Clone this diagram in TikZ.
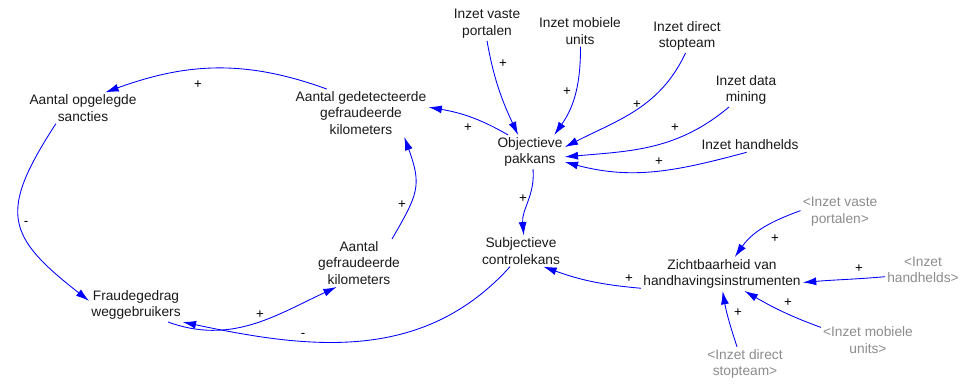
\documentclass[tikz,border=0pt]{standalone}
\usepackage{fontspec}
\setmainfont{Liberation Sans}
\usetikzlibrary{arrows.meta}
\definecolor{linkblue}{RGB}{0,0,255}
\definecolor{shadowgray}{RGB}{140,140,140}
\begin{document}
\begin{tikzpicture}[x=0.75pt, y=-0.75pt,
    var/.style={align=center, inner sep=1.5pt, font=\fontsize{10.3}{12.5}\selectfont, text=black!90},
    shadow/.style={var, text=shadowgray},
    link/.style={-{Latex[length=10pt,width=6pt]}, color=linkblue, line width=0.65pt},
    sign/.style={font=\fontsize{10}{12}\selectfont, inner sep=0pt}]
    \useasboundingbox (0,0) rectangle (972,383);
    % Loop variables
    \node[var] (sanct) at (83,108)  {Aantal opgelegde\\sancties};
    \node[var] (gedet) at (361,113) {Aantal gedetecteerde\\gefraudeerde\\kilometers};
    \node[var] (fraud) at (136,305) {Fraudegedrag\\weggebruikers};
    \node[var] (gefr)  at (359,263) {Aantal\\gefraudeerde\\kilometers};
    \node[var] (obj)   at (530,152) {Objectieve\\pakkans};
    \node[var] (subj)  at (521,251) {Subjectieve\\controlekans};
    \node[var] (zicht) at (722,274) {Zichtbaarheid van\\handhavingsinstrumenten};
    % Instruments
    \node[var] (vaste)  at (487,24)  {Inzet vaste\\portalen};
    \node[var] (mob)    at (580,31)  {Inzet mobiele\\units};
    \node[var] (direct) at (687,36)  {Inzet direct\\stopteam};
    \node[var] (mining) at (746,90)  {Inzet data\\mining};
    \node[var] (hand)   at (750,145) {Inzet handhelds};
    % Shadow variables
    \node[shadow] (gvaste)  at (840,212) {<Inzet vaste\\portalen>};
    \node[shadow] (ghand)   at (923,270) {<Inzet\\handhelds>};
    \node[shadow] (gmob)    at (868,340) {<Inzet mobiele\\units>};
    \node[shadow] (gdirect) at (745,364) {<Inzet direct\\stopteam>};
    % Loop links
    \draw[link] (gedet.145) to[out=160,in=20] (sanct.35);
    \draw[link] (sanct.210) to[out=237,in=142,looseness=1.5] (fraud.175);
    \draw[link] (fraud.-28) to[out=-20,in=205] (gefr.227);
    \draw[link] (gefr.36) to[out=60,in=-70,looseness=1.3] (gedet.-29);
    \draw[link] (obj.142) to[out=150,in=-10] (gedet.5);
    \draw[link] (obj.-80) to[out=-85,in=95] (subj.80);
    \draw[link] (subj.235) to[out=228,in=-12] (fraud.-20);
    \draw[link] (zicht.190) to[out=175,in=-20] (subj.-35);
    % Inputs to pakkans
    \draw[link] (vaste.-90) to[out=-80,in=115] (obj.125);
    \draw[link] (mob.-88) to[out=-90,in=55] (obj.35);
    \draw[link] (direct.-95) to[out=-115,in=27] (obj.8);
    \draw[link] (mining.225) to[out=-140,in=5] (obj.-8);
    \draw[link] (hand.-115) to[out=195,in=-15] (obj.-16);
    % Inputs to zichtbaarheid
    \draw[link] (gvaste.178) to[out=200,in=55] (zicht.53);
    \draw[link] (ghand.190) to[out=185,in=5] (zicht.-6);
    \draw[link] (gmob.165) to[out=160,in=-30] (zicht.-37);
    \draw[link] (gdirect.115) to[out=108,in=-80] (zicht.-88);
    % Polarities
    \node[sign] (p1)  at (198,85)  {+};
    \node[sign] (p2)  at (26,223)  {-};
    \node[sign] (p3)  at (260,315) {+};
    \node[sign] (p4)  at (402,205) {+};
    \node[sign] (p5)  at (468,128) {+};
    \node[sign] (p6)  at (503,64)  {+};
    \node[sign] (p7)  at (567,92)  {+};
    \node[sign] (p8)  at (637,105) {+};
    \node[sign] (p9)  at (675,128) {+};
    \node[sign] (p10) at (659,162) {+};
    \node[sign] (p11) at (523,199) {+};
    \node[sign] (p12) at (303,335) {-};
    \node[sign] (p13) at (629,279) {+};
    \node[sign] (p14) at (775,239) {+};
    \node[sign] (p15) at (859,269) {+};
    \node[sign] (p16) at (788,303) {+};
    \node[sign] (p17) at (738,313) {+};
\end{tikzpicture}
\end{document}
